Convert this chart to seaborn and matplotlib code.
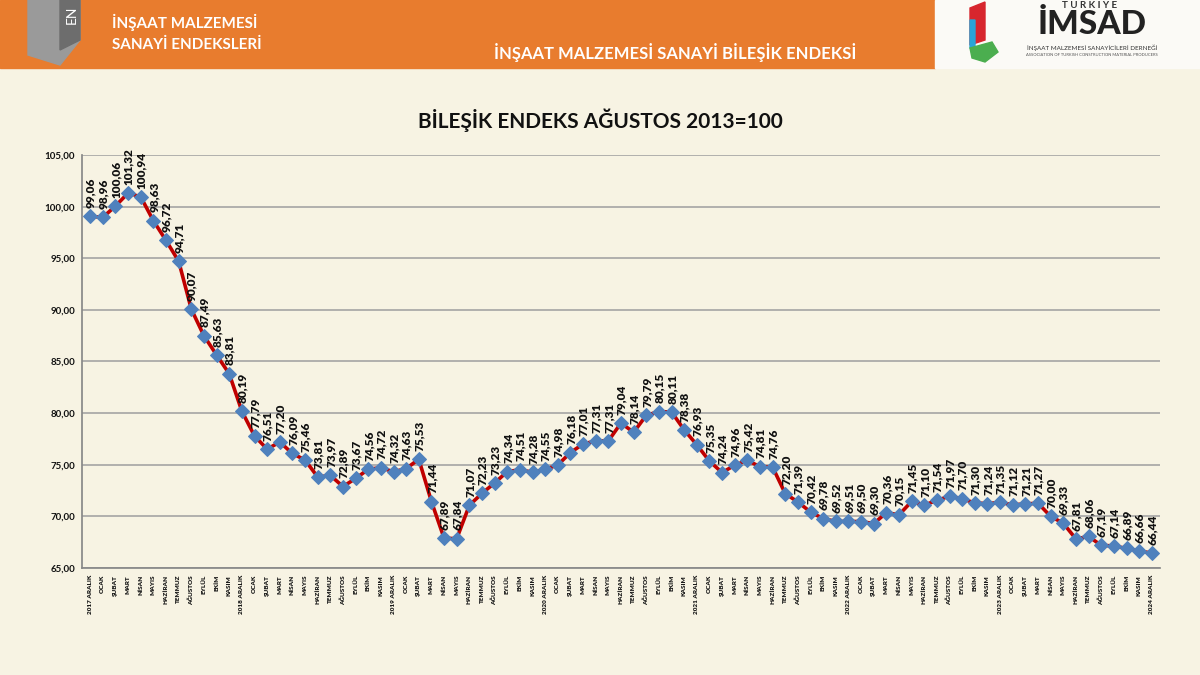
import numpy as np
import pandas as pd
import matplotlib.pyplot as plt
import matplotlib.patches as mpatches
import seaborn as sns

# Bileşik endeks values, 2017 Aralık .. 2024 Aralık (Ağustos 2013 = 100)
years = ['2017', '2018', '2019', '2020', '2021', '2022', '2023', '2024']
months = ['OCAK', 'ŞUBAT', 'MART', 'NİSAN', 'MAYIS', 'HAZİRAN', 'TEMMUZ',
          'AĞUSTOS', 'EYLÜL', 'EKİM', 'KASIM']
index_values = [
    99.06, 98.96, 100.06, 101.32, 100.94, 98.63, 96.72, 94.71, 90.07, 87.49, 85.63, 83.81,
    80.19, 77.79, 76.51, 77.20, 76.09, 75.46, 73.81, 73.97, 72.89, 73.67, 74.56, 74.72,
    74.32, 74.63, 75.53, 71.44, 67.89, 67.84, 71.07, 72.23, 73.23, 74.34, 74.51, 74.28,
    74.55, 74.98, 76.18, 77.01, 77.31, 77.31, 79.04, 78.14, 79.79, 80.15, 80.11, 78.38,
    76.93, 75.35, 74.24, 74.96, 75.42, 74.81, 74.76, 72.20, 71.39, 70.42, 69.78, 69.52,
    69.51, 69.50, 69.30, 70.36, 70.15, 71.45, 71.10, 71.54, 71.97, 71.70, 71.30, 71.24,
    71.35, 71.12, 71.21, 71.27, 70.00, 69.33, 67.81, 68.06, 67.19, 67.14, 66.89, 66.66,
    66.44,
]

tick_labels = []
for i, y in enumerate(years):
    tick_labels.append(y + ' ARALIK')
    if i < len(years) - 1:
        tick_labels.extend(months)

df = pd.DataFrame({'pos': np.arange(len(index_values)), 'value': index_values})

sns.set_theme(style='white')
plt.rcParams['font.family'] = ['Lato', 'DejaVu Sans']

bg = '#F7F3E3'
fig = plt.figure(figsize=(12, 6.75), dpi=100, facecolor=bg)

# header banner
banner = fig.add_axes([0, 0, 1, 1], zorder=-1)
banner.set_xlim(0, 1200)
banner.set_ylim(675, 0)
banner.axis('off')
banner.add_patch(mpatches.Rectangle((0, 0), 935, 68, color='#E87C2E'))
banner.add_patch(mpatches.Rectangle((935, 0), 265, 68, color='#FBFAF6'))
banner.add_patch(mpatches.Polygon([(28, 0), (80, 0), (80, 40), (60, 65), (28, 55)], color='#9A9A9A'))
banner.add_patch(mpatches.Polygon([(60, 0), (80, 0), (80, 40), (60, 50)], color='#6D6D6D'))
banner.text(72, 15, 'EN', color='white', fontsize=10, rotation=90, ha='center', va='center')
banner.text(112, 22, 'İNŞAAT MALZEMESİ', color='white', fontsize=11, fontweight='bold', va='center')
banner.text(112, 45, 'SANAYİ ENDEKSLERİ', color='white', fontsize=11, fontweight='bold', va='center')
banner.text(675, 52, 'İNŞAAT MALZEMESİ SANAYİ BİLEŞİK ENDEKSİ', color='white', fontsize=12,
            fontweight='bold', ha='center', va='center')
# IMSAD logo
banner.add_patch(mpatches.Polygon([(970, 8), (985, 2), (985, 40), (970, 45)], color='#D7262E'))
banner.add_patch(mpatches.Polygon([(970, 20), (975, 20), (975, 50), (970, 48)], color='#2AA4D8'))
banner.add_patch(mpatches.Polygon([(970, 48), (992, 42), (998, 52), (985, 62), (972, 58)], color='#4BAE4F'))
banner.text(1090, 5, 'T Ü R K İ Y E', color='#333333', fontsize=7, fontweight='bold', ha='center', va='center')
banner.text(1092, 24, 'İMSAD', color='#222222', fontsize=24, fontweight='black', ha='center', va='center')
banner.text(1092, 48, 'İNŞAAT MALZEMESİ SANAYİCİLERİ DERNEĞİ', color='#333333', fontsize=4.5,
            ha='center', va='center')
banner.text(1092, 55, 'ASSOCIATION OF TURKISH CONSTRUCTION MATERIAL PRODUCERS', color='#555555',
            fontsize=3, ha='center', va='center')

fig.text(0.5, 1 - 120 / 675, 'BİLEŞİK ENDEKS AĞUSTOS 2013=100', ha='center', va='center',
         fontsize=15, fontweight='bold', color='#111111')

ax = fig.add_axes([82 / 1200, 1 - 568 / 675, (1160 - 82) / 1200, (568 - 155) / 675])
ax.set_facecolor('none')

sns.lineplot(data=df, x='pos', y='value', ax=ax, color='#C00000', linewidth=2.6,
             marker='D', markersize=7.5, markerfacecolor='#4F81BD', markeredgecolor='#4F81BD')

for x, v in zip(df['pos'], df['value']):
    ax.annotate(f'{v:.2f}'.replace('.', ','), (x, v), xytext=(0.5, 6), textcoords='offset points',
                rotation=90, ha='center', va='bottom', fontsize=8.5, fontweight='heavy', color='#111111')

ax.set_ylim(65, 105)
ax.set_xlim(-0.65, len(index_values) - 0.35)
ax.set_yticks(np.arange(65, 106, 5))
ax.set_yticklabels([f'{t:.2f}'.replace('.', ',') for t in np.arange(65, 106, 5)],
                   fontsize=7, fontweight='bold', color='#111111')
ax.set_xticks(df['pos'])
ax.set_xticklabels(tick_labels, rotation=90, fontsize=4.6, fontweight='heavy', color='#1a1a1a')
ax.tick_params(axis='x', length=0, pad=5)
ax.tick_params(axis='y', length=0, pad=5)
ax.set_xticks(np.arange(-0.5, len(index_values), 1), minor=True)
ax.tick_params(axis='x', which='minor', length=3, color='#888888', width=0.8)
ax.grid(axis='y', color='#9E9E9E', linewidth=1.1)
ax.set_axisbelow(True)
for side in ['top', 'right']:
    ax.spines[side].set_visible(False)
ax.spines['left'].set_color('#888888')
ax.spines['bottom'].set_color('#888888')
ax.set_xlabel('')
ax.set_ylabel('')

fig.savefig('out.png', dpi=100, facecolor=bg)
